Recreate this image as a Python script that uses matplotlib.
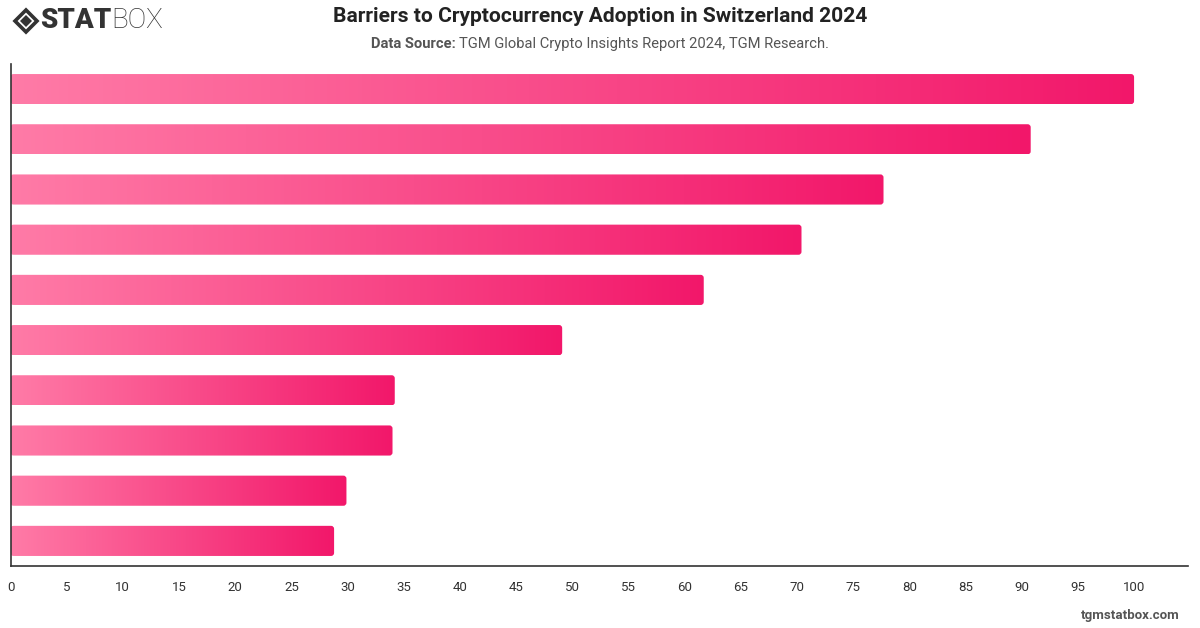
import matplotlib
matplotlib.use("Agg")
import matplotlib.pyplot as plt
import numpy as np
from matplotlib.colors import LinearSegmentedColormap
from matplotlib.patches import FancyBboxPatch, Polygon

# values, top bar first
values = [100, 90.8, 77.7, 70.4, 61.7, 49.1, 34.2, 34.0, 29.9, 28.8]
xticks = list(range(0, 101, 5))

plt.rcParams['font.family'] = ['Roboto', 'DejaVu Sans']

fig = plt.figure(figsize=(12, 6.28), dpi=100)
ax = fig.add_axes([10.5 / 1200, 62 / 628, (1188 - 10.5) / 1200, 502 / 628])

cmap = LinearSegmentedColormap.from_list("pink", ["#FF7BA7", "#F2176A"])
grad = np.linspace(0, 1, 256).reshape(1, -1)
h = 0.6

for i, v in enumerate(values):
    patch = FancyBboxPatch((0, i - h / 2), v, h,
                           boxstyle="round,pad=0,rounding_size=0.27",
                           mutation_aspect=0.225,
                           facecolor="none", edgecolor="none")
    ax.add_patch(patch)
    im = ax.imshow(grad, cmap=cmap, aspect="auto",
                   extent=[0, v, i + h / 2, i - h / 2], zorder=2)
    im.set_clip_path(patch)

ax.set_xlim(0, 104.8)
ax.set_ylim(9.5, -0.5)
ax.set_xticks(xticks)
ax.set_xticklabels([str(t) for t in xticks])
ax.set_yticks([])
ax.tick_params(axis="x", length=0, pad=11, labelsize=9.5, colors="#333333")
for s in ["top", "right"]:
    ax.spines[s].set_visible(False)
for s in ["left", "bottom"]:
    ax.spines[s].set_color("#333333")
    ax.spines[s].set_linewidth(1.2)

# title and source
fig.text(0.5, 1 - 17 / 628, "Barriers to Cryptocurrency Adoption in Switzerland 2024",
         ha="center", va="center", fontsize=15.1, fontweight="bold", color="#222222")
t1 = fig.text(0.5, 1 - 44 / 628, "Data Source: ", ha="right", va="center",
              fontsize=10.6, fontweight="bold", color="#555555")
fig.canvas.draw()
r = fig.canvas.get_renderer()
bb1 = t1.get_window_extent(r)
t2 = fig.text(0.5, 1 - 44 / 628, "TGM Global Crypto Insights Report 2024, TGM Research.",
              ha="left", va="center", fontsize=10.6, color="#555555")
bb2 = t2.get_window_extent(r)
shift = (bb1.width - bb2.width) / 2 / 1200
t1.set_x(0.5 + shift)
t2.set_x(0.5 + shift)

# logo
cx, cy, s = 26 / 1200, 1 - 21 / 628, 11
outer = Polygon([(cx - s / 1200, cy), (cx, cy + s / 628), (cx + s / 1200, cy), (cx, cy - s / 628)],
                closed=True, transform=fig.transFigure, facecolor="none",
                edgecolor="#333333", linewidth=2.6)
s2 = 6
inner = Polygon([(cx - s2 / 1200, cy), (cx, cy + s2 / 628), (cx + s2 / 1200, cy), (cx, cy - s2 / 628)],
                closed=True, transform=fig.transFigure, facecolor="#333333", edgecolor="none")
fig.add_artist(outer)
fig.add_artist(inner)
tl = fig.text(40 / 1200, 1 - 21 / 628, "STAT", ha="left", va="center",
              fontsize=20, fontweight="heavy", color="#333333")
fig.canvas.draw()
bbl = tl.get_window_extent(r)
fig.text(bbl.x1 / 1200, 1 - 21 / 628, "BOX", ha="left", va="center",
         fontsize=20, fontweight="light", color="#333333")

fig.text(1180 / 1200, 1 - 616 / 628, "tgmstatbox.com", ha="right", va="center",
         fontsize=9.5, fontweight="bold", color="#555555")

fig.savefig("out.png", dpi=100)
